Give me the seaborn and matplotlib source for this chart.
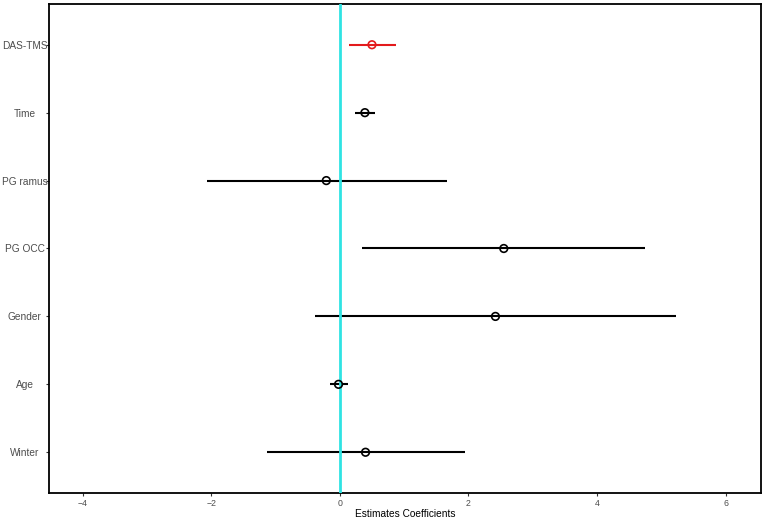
import matplotlib
matplotlib.use("Agg")
import matplotlib.pyplot as plt
from matplotlib.transforms import ScaledTranslation
import seaborn as sns
import pandas as pd

terms = ["DAS-TMS", "Time", "PG ramus", "PG OCC", "Gender", "Age", "Winter"]
estimate = [0.50, 0.39, -0.21, 2.55, 2.42, -0.02, 0.40]
ci_low = [0.14, 0.23, -2.07, 0.34, -0.39, -0.16, -1.13]
ci_high = [0.87, 0.54, 1.66, 4.75, 5.23, 0.13, 1.94]
highlight = ["yes", "no", "no", "no", "no", "no", "no"]
x_ticks = [-4, -2, 0, 2, 4, 6]

df = pd.DataFrame({"term": terms, "est": estimate, "lo": ci_low,
                   "hi": ci_high, "hl": highlight})

sns.set_style("white")
plt.rcParams["font.family"] = ["Liberation Sans", "DejaVu Sans"]

fig = plt.figure(figsize=(7.65, 5.19), dpi=100)
ax = fig.add_axes([0.0634, 0.0501, 0.9314, 0.9422])

palette = {"yes": "#e31a1c", "no": "#000000"}

# points (establish categorical axis)
sns.scatterplot(data=df, x="est", y="term", hue="hl", palette=palette,
                marker="o", s=30, facecolor="none", linewidth=1.2,
                legend=False, ax=ax, zorder=5)
for c in ax.collections:
    c.set_facecolor("none")
    c.set_edgecolors([palette[h] for h in df["hl"]])

# confidence interval lines
ax.hlines(y=df["term"], xmin=df["lo"], xmax=df["hi"],
          colors=[palette[h] for h in df["hl"]], linewidth=1.5, zorder=2)

# zero reference line
ax.axvline(0, color="#2fe3e3", linewidth=2.0, zorder=3)

ax.set_xlim(-4.53, 6.55)
ax.set_ylim(6.6, -0.6)
ax.set_xticks(x_ticks)
ax.set_xticklabels(["\u2212" + str(abs(t)) if t < 0 else str(t) for t in x_ticks])
ax.set_xlabel("Estimates Coefficients", fontsize=7.3, color="black", labelpad=0.5)
ax.set_ylabel("")

for s in ax.spines.values():
    s.set_visible(True)
    s.set_color("black")
    s.set_linewidth(1.3)

ax.tick_params(axis="x", length=2.5, width=0.8, color="#333333",
               labelsize=6.3, labelcolor="#4d4d4d", pad=2, bottom=True)
ax.tick_params(axis="y", length=2.5, width=0.8, color="#333333",
               labelsize=7.3, labelcolor="#4d4d4d", pad=2, left=True)

offset = ScaledTranslation(-0.175, 0, fig.dpi_scale_trans)
for lbl in ax.get_yticklabels():
    lbl.set_ha("center")
    lbl.set_transform(lbl.get_transform() + offset)

fig.savefig("out.png", dpi=100)
